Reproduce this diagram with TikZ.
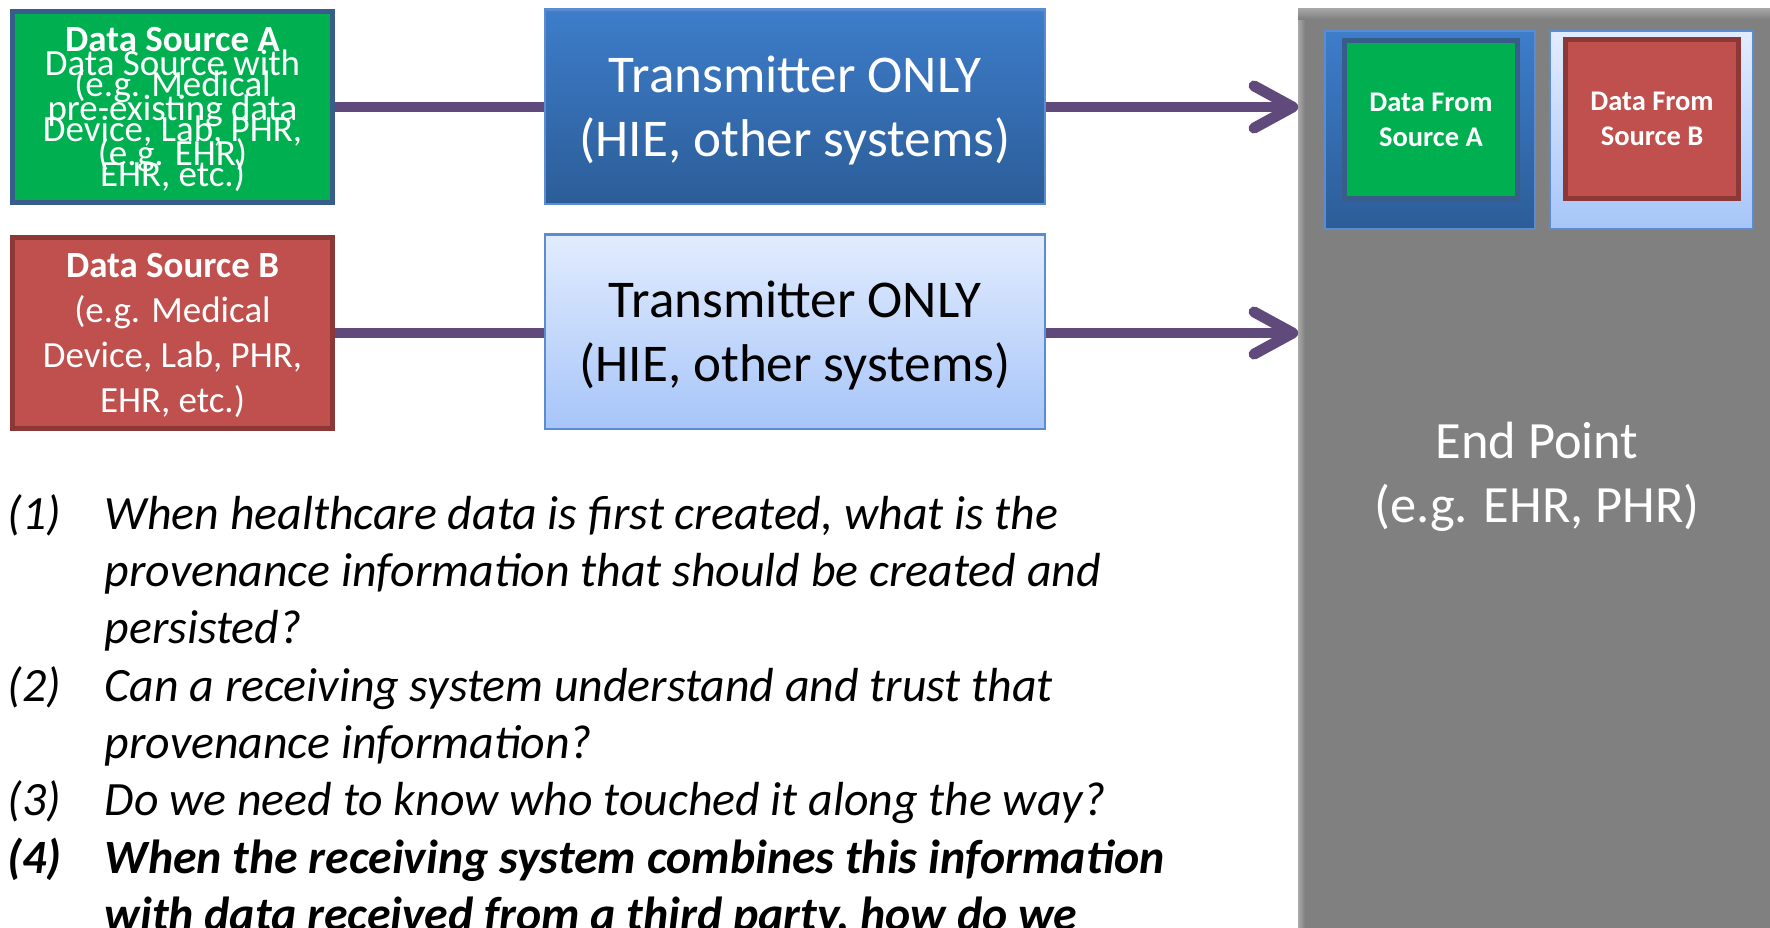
\documentclass[tikz,border=0pt]{standalone}
\usepackage{fontspec}
\setmainfont{Carlito}
\usetikzlibrary{arrows.meta}

\definecolor{srcgreen}{HTML}{00B050}
\definecolor{srcgreenline}{HTML}{385D8A}
\definecolor{srcred}{HTML}{C0504D}
\definecolor{srcredline}{HTML}{8C3836}
\definecolor{trtop}{HTML}{3D7DCA}
\definecolor{trbottom}{HTML}{2C5D98}
\definecolor{trline}{HTML}{5B8BD0}
\definecolor{lighttop}{HTML}{E2ECFE}
\definecolor{lightbottom}{HTML}{A7C5F9}
\definecolor{linkpurple}{HTML}{604A7B}
\definecolor{epgray}{HTML}{808080}
\definecolor{eplight}{HTML}{A8A8A8}

\tikzset{
  srcbox/.style={rectangle,line width=1.4pt,minimum width=3.2cm,minimum height=1.91cm,
    text=white,align=center,inner sep=0pt,text depth=0pt,font=\fontsize{10.5}{12.8}\selectfont},
  trbox/.style={rectangle,line width=0.6pt,draw=trline,minimum width=5cm,minimum height=1.94cm,
    align=center,inner sep=0pt,text depth=0pt,font=\fontsize{15.1}{18.25}\selectfont},
  darktr/.style={trbox,top color=trtop,bottom color=trbottom,text=white},
  lighttr/.style={trbox,top color=lighttop,bottom color=lightbottom,text=black},
  datain/.style={rectangle,line width=1.4pt,minimum width=1.73cm,minimum height=1.58cm,
    text=white,align=center,inner sep=0pt,font=\fontsize{8.1}{9.9}\selectfont\bfseries},
  link/.style={draw=linkpurple,line width=3.1pt},
  qnum/.style={anchor=base west,inner sep=0pt,font=\fontsize{13.6}{16.2}\selectfont\itshape},
  qtext/.style={anchor=base west,inner sep=0pt,align=left,font=\fontsize{13.6}{16.2}\selectfont\itshape}
}

\begin{document}
\begin{tikzpicture}[x=0.01cm,y=-0.01cm]
  \useasboundingbox (0,0) rectangle (1770,927);
  \clip (0,0) rectangle (1770,927);

  % end point
  \node[rectangle,fill=epgray,minimum width=4.76cm,minimum height=9.26cm,inner sep=0pt,
    text=white,align=center,text depth=0pt,font=\fontsize{14.9}{18.25}\selectfont] (ep) at (1537,472)
    {End Point\\(e.g. EHR, PHR)};
  \shade[left color=eplight,right color=epgray] (ep.north west) rectangle ([xshift=0.07cm]ep.south west);
  \shade[top color=eplight,bottom color=epgray] (ep.north west) rectangle ([yshift=-0.11cm]ep.north east);

  % data held at the end point
  \node[darktr,minimum width=2.1cm,minimum height=1.98cm] (frmA) at (1430,130) {};
  \node[datain,fill=srcgreen,draw=srcgreenline] (inA) at (1431,119.5) {Data From\\Source A};
  \node[lighttr,minimum width=2.03cm,minimum height=1.98cm] (frmB) at (1651.5,130) {};
  \node[datain,fill=srcred,draw=srcredline] (inB) at (1652,119) {Data From\\Source B};

  % sources
  \node[srcbox,fill=srcgreen,draw=srcgreenline] (srcA) at (172.5,107)
    {\textbf{Data Source A}\\(e.g. Medical\\Device, Lab, PHR,\\EHR, etc.)};
  \node[srcbox,draw=none,minimum width=0pt,minimum height=0pt] (srcAold) at (172.5,108)
    {Data Source with\\pre-existing data\\(e.g. EHR)};
  \node[srcbox,fill=srcred,draw=srcredline] (srcB) at (172.5,333)
    {\textbf{Data Source B}\\(e.g. Medical\\Device, Lab, PHR,\\EHR, etc.)};

  % transmitters
  \node[darktr] (trA) at (795,106.5) {Transmitter ONLY\\(HIE, other systems)};
  \node[lighttr] (trB) at (795,331.5) {Transmitter ONLY\\(HIE, other systems)};

  \draw[link] (srcA.east) -- (srcA.east -| trA.west);
  \draw[link] (srcB.east) -- (srcB.east -| trB.west);
  \draw[link,-{Straight Barb[length=11pt,width=12pt,round]}] (trA.east |- srcA.east) -- (srcA.east -| ep.west);
  \draw[link,-{Straight Barb[length=11pt,width=12pt,round]}] (trB.east |- srcB.east) -- (srcB.east -| ep.west);

  % questions (text nodes sit on the baseline of their last line)
  \node[qnum] (n1) at (7,529) {(1)};
  \node[qtext] (q1) at (104,643.4) {When healthcare data is first created, what is the\\provenance information that should be created and\\persisted?};
  \node[qnum] (n2) at (7,701) {(2)};
  \node[qtext] (q2) at (104,758.2) {Can a receiving system understand and trust that\\provenance information?};
  \node[qnum] (n3) at (7,815) {(3)};
  \node[qtext] (q3) at (104,815) {Do we need to know who touched it along the way?};
  \node[qnum,font=\fontsize{13.6}{16.2}\selectfont\itshape\bfseries] (n4) at (7,873) {(4)};
  \node[qtext,font=\fontsize{13.6}{16.2}\selectfont\itshape\bfseries] (q4) at (104,930.2)
    {When the receiving system combines this information\\with data received from a third party, how do we};
\end{tikzpicture}
\end{document}
